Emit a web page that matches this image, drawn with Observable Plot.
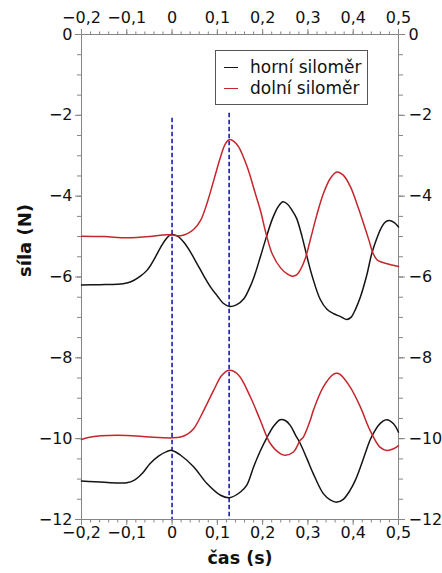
<!DOCTYPE html>
<html>
<head>
<meta charset="utf-8">
<script src="https://cdn.jsdelivr.net/npm/d3@7"></script>
<script src="https://cdn.jsdelivr.net/npm/@observablehq/plot@0.6"></script>
<style>
  html, body { margin: 0; padding: 0; background: #fff; }
  #wrap { position: relative; width: 442px; height: 573px; font-family: "DejaVu Sans", Verdana, sans-serif; }
  #legend { position: absolute; left: 215px; top: 50px; width: 153px; height: 55px; border: 1px solid #555; background: #fff; box-sizing: border-box; font-size: 17px; color: #111; }
  #legend .row { position: absolute; left: 0; height: 20px; line-height: 20px; }
  #legend .sw { position: absolute; left: 8px; top: 10px; width: 14px; height: 0; border-top: 1.5px solid; }
  #legend .lb { position: absolute; left: 34px; top: 0; white-space: nowrap; }
</style>
</head>
<body>
<div id="wrap"></div>
<script>
// Time axis (s) and force (N) samples
const tHorniA = [-0.2,-0.16,-0.121,-0.1,-0.084,-0.07,-0.055,-0.04,-0.025,-0.012,-0.002,0.012,0.026,0.04,0.055,0.07,0.085,0.1,0.113,0.127,0.142,0.159,0.17,0.181,0.195,0.208,0.222,0.235,0.245,0.255,0.265,0.275,0.287,0.298,0.31,0.327,0.342,0.357,0.372,0.386,0.395,0.405,0.416,0.43,0.441,0.452,0.463,0.472,0.48,0.49,0.5];
const fHorniA = [-6.2,-6.19,-6.18,-6.15,-6.08,-5.98,-5.83,-5.57,-5.26,-5.04,-4.95,-4.99,-5.14,-5.37,-5.67,-5.97,-6.25,-6.47,-6.65,-6.73,-6.69,-6.53,-6.3,-6.0,-5.5,-5.02,-4.55,-4.25,-4.14,-4.2,-4.35,-4.55,-5.0,-5.5,-6.0,-6.55,-6.8,-6.91,-6.98,-7.05,-7.0,-6.8,-6.49,-5.95,-5.42,-5.05,-4.76,-4.63,-4.6,-4.65,-4.76];

const tDolniA = [-0.2,-0.15,-0.1,-0.05,-0.02,0,0.019,0.035,0.048,0.063,0.077,0.092,0.107,0.118,0.127,0.137,0.147,0.166,0.184,0.195,0.208,0.222,0.24,0.255,0.265,0.275,0.283,0.294,0.305,0.32,0.334,0.35,0.364,0.378,0.394,0.41,0.423,0.435,0.444,0.453,0.462,0.475,0.488,0.5];
const fDolniA = [-4.99,-5.0,-5.03,-5.0,-4.96,-4.96,-4.98,-4.92,-4.82,-4.6,-4.18,-3.61,-3.03,-2.7,-2.6,-2.65,-2.78,-3.28,-3.94,-4.35,-4.95,-5.45,-5.78,-5.93,-5.98,-5.95,-5.83,-5.55,-5.09,-4.45,-3.94,-3.55,-3.4,-3.48,-3.77,-4.25,-4.68,-5.1,-5.42,-5.58,-5.63,-5.67,-5.71,-5.74];

const tHorniB = [-0.2,-0.15,-0.1,-0.084,-0.065,-0.049,-0.03,-0.012,0,0.019,0.048,0.077,0.107,0.127,0.151,0.165,0.18,0.195,0.21,0.225,0.239,0.25,0.261,0.272,0.283,0.298,0.312,0.334,0.35,0.364,0.378,0.393,0.405,0.416,0.427,0.437,0.447,0.456,0.465,0.474,0.489,0.5];
const fHorniB = [-11.05,-11.08,-11.09,-11.03,-10.85,-10.62,-10.43,-10.32,-10.29,-10.41,-10.7,-11.11,-11.4,-11.46,-11.32,-11.15,-10.7,-10.3,-9.96,-9.68,-9.53,-9.55,-9.67,-9.9,-10.12,-10.5,-10.87,-11.36,-11.52,-11.57,-11.5,-11.28,-11.02,-10.7,-10.35,-10.04,-9.82,-9.67,-9.57,-9.53,-9.63,-9.84];

const tDolniB = [-0.2,-0.185,-0.157,-0.1,-0.049,0,0.019,0.035,0.048,0.07,0.092,0.11,0.127,0.147,0.173,0.195,0.217,0.239,0.25,0.268,0.283,0.29,0.305,0.312,0.334,0.356,0.364,0.371,0.393,0.416,0.437,0.459,0.474,0.489,0.5];
const fDolniB = [-10.02,-9.97,-9.93,-9.92,-9.96,-9.98,-9.96,-9.88,-9.75,-9.3,-8.8,-8.43,-8.31,-8.43,-8.97,-9.55,-10.12,-10.37,-10.41,-10.33,-10.04,-9.96,-9.55,-9.3,-8.72,-8.41,-8.38,-8.41,-8.72,-9.22,-9.79,-10.21,-10.29,-10.25,-10.17];

const seriesNames = ["horní siloměr", "dolní siloměr"];
const seriesColors = ["#141414", "#c4262c"];

// Dashed guides
const guideT = [0, 0.126];
const guideTop = [-2.07, -1.95];

const xTicks = [-0.2, -0.1, 0, 0.1, 0.2, 0.3, 0.4, 0.5];
const yTicks = [-12, -10, -8, -6, -4, -2, 0];
const xMinor = d3.range(-0.2, 0.5001, 0.02).map(v => +v.toFixed(2));
const yMinor = d3.range(-12, 0.001, 0.5);

const xLabel = "čas (s)";
const yLabel = "síla (N)";

const locale = d3.formatLocale({decimal: ",", thousands: " ", grouping: [3], currency: ["", ""], minus: "−"});
const fmt = locale.format("");

const rows = [];
const addSeries = (ts, fs, name, group) => ts.forEach((t, i) => rows.push({t, f: fs[i], name, group}));
addSeries(tHorniA, fHorniA, seriesNames[0], "A-h");
addSeries(tDolniA, fDolniA, seriesNames[1], "A-d");
addSeries(tHorniB, fHorniB, seriesNames[0], "B-h");
addSeries(tDolniB, fDolniB, seriesNames[1], "B-d");

const guides = guideT.map((t, i) => ({t, top: guideTop[i]}));

const axisGray = "#858585";
const common = {stroke: axisGray, fill: "#111", fontSize: 16};

const chart = Plot.plot({
  width: 442,
  height: 573,
  marginLeft: 81,
  marginRight: 44,
  marginTop: 34,
  marginBottom: 54,
  style: {fontFamily: "DejaVu Sans, Verdana, sans-serif", fontSize: "16px", background: "white", color: "#111"},
  x: {domain: [-0.2, 0.5]},
  y: {domain: [-12, 0]},
  color: {domain: seriesNames, range: seriesColors},
  marks: [
    Plot.frame({stroke: axisGray, strokeWidth: 1}),
    Plot.axisX(xMinor, {anchor: "bottom", tickSize: 3.5, text: null, label: null, stroke: axisGray}),
    Plot.axisX(xMinor, {anchor: "top", tickSize: 3.5, text: null, label: null, stroke: axisGray}),
    Plot.axisY(yMinor, {anchor: "left", tickSize: 4, text: null, label: null, stroke: axisGray}),
    Plot.axisY(yMinor, {anchor: "right", tickSize: 4, text: null, label: null, stroke: axisGray}),
    Plot.axisX(xTicks, {anchor: "bottom", tickSize: 6, tickPadding: 1.5, tickFormat: fmt, label: null, ...common}),
    Plot.axisX(xTicks, {anchor: "top", tickSize: 6, tickPadding: 6, tickFormat: fmt, label: null, ...common}),
    Plot.axisY(yTicks, {anchor: "left", tickSize: 6, tickPadding: 3, tickFormat: fmt, label: null, ...common}),
    Plot.axisY(yTicks, {anchor: "right", tickSize: 6, tickPadding: 4, tickFormat: fmt, label: null, ...common}),
    Plot.ruleX(guides, {x: "t", y1: "top", y2: -12, stroke: "#1c1cb0", strokeWidth: 1.6, strokeDasharray: "4.5,2.5"}),
    Plot.line(rows, {x: "t", y: "f", z: "group", stroke: "name", strokeWidth: 1.5, curve: "catmull-rom"}),
    Plot.text([xLabel], {text: d => d, frameAnchor: "bottom", dy: 44, fontWeight: "bold", fontSize: 17.5, fill: "#111"}),
    Plot.text([yLabel], {text: d => d, frameAnchor: "left", dx: -56, rotate: -90, fontWeight: "bold", fontSize: 18, fill: "#111"})
  ]
});

const wrap = document.getElementById("wrap");
wrap.appendChild(chart);

const legend = document.createElement("div");
legend.id = "legend";
seriesNames.forEach((n, i) => {
  const row = document.createElement("div");
  row.className = "row";
  row.style.top = (6 + i * 21) + "px";
  const sw = document.createElement("span");
  sw.className = "sw";
  sw.style.borderTopColor = seriesColors[i];
  const lb = document.createElement("span");
  lb.className = "lb";
  lb.textContent = n;
  row.appendChild(sw);
  row.appendChild(lb);
  legend.appendChild(row);
});
wrap.appendChild(legend);
</script>
</body>
</html>
